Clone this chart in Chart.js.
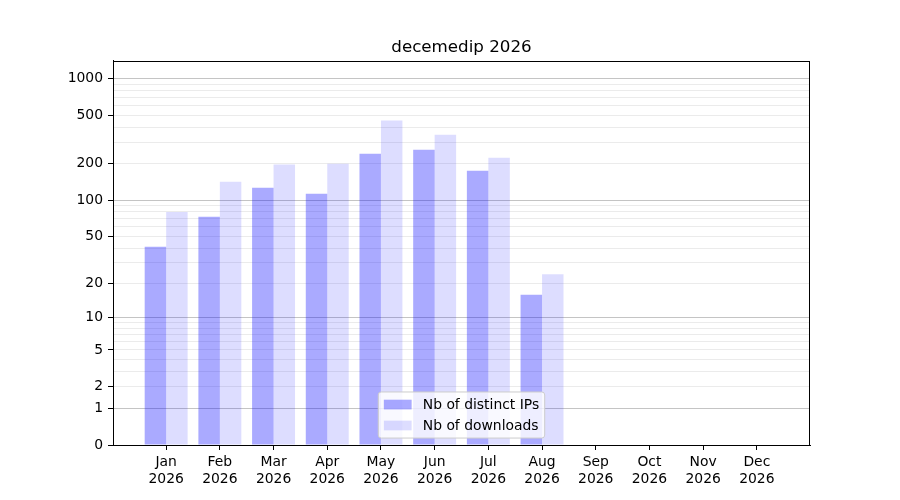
<!DOCTYPE html>
<html>
<head>
<meta charset="utf-8">
<title>decemedip 2026</title>
<script src="https://cdn.jsdelivr.net/npm/chart.js@4.4.1/dist/chart.umd.min.js"></script>
<style>
  html, body { margin: 0; padding: 0; background: #fff; }
  #wrap { width: 900px; height: 500px; }
</style>
</head>
<body>
<div id="wrap"><canvas id="bar-chart" width="900" height="500"></canvas></div>
<script>
// data
const months = ["Jan", "Feb", "Mar", "Apr", "May", "Jun", "Jul", "Aug", "Sep", "Oct", "Nov", "Dec"];
const year = "2026";
const distinctIPs = [41, 73, 127, 113, 242, 261, 175, 16, 0, 0, 0, 0];
const downloads = [80, 142, 197, 200, 452, 346, 224, 24, 0, 0, 0, 0];

// tick labels of the y axis and the unlabelled minor grid
const yTickLabels = [0, 1, 2, 5, 10, 20, 50, 100, 200, 500, 1000];
const yDecades = [1, 10, 100, 1000];
const yMinor = [3, 4, 6, 7, 8, 9, 30, 40, 60, 70, 80, 90, 300, 400, 600, 700, 800, 900];
const yMax = 1400;

const FONT = "'DejaVu Sans', sans-serif";
const EM = 13.9;

// scale log10(1 + x), like the one of the picture
const f = (v) => Math.log10(1 + v);

class Log1pScale extends Chart.Scale {
  static id = "log1p";
  static defaults = {};

  determineDataLimits() {
    const { min, max } = this.getMinMax(true);
    this.min = Number.isFinite(this.options.min) ? this.options.min : Math.max(0, min);
    this.max = Number.isFinite(this.options.max) ? this.options.max : max;
  }

  buildTicks() {
    return yTickLabels.concat(yMinor).sort((a, b) => a - b).map((v) => ({ value: v }));
  }

  getLabelForValue(value) {
    return String(value);
  }

  configure() {
    super.configure();
    this._startValue = f(this.min);
    this._valueRange = f(this.max) - f(this.min);
  }

  getPixelForValue(value) {
    if (value === undefined || value === null || isNaN(value)) return NaN;
    return this.getPixelForDecimal(this._valueRange ? (f(value) - this._startValue) / this._valueRange : 0);
  }

  getValueForPixel(pixel) {
    const d = this.getDecimalForPixel(pixel);
    return Math.pow(10, this._startValue + d * this._valueRange) - 1;
  }
}
Chart.register(Log1pScale);

// frame round the plot and legend inside it, lower center
const frameLegend = {
  id: "frameLegend",
  afterDraw(chart) {
    const { ctx, chartArea: a } = chart;
    ctx.save();
    ctx.strokeStyle = "#000";
    ctx.lineWidth = 1;
    ctx.strokeRect(Math.round(a.left) + 0.5, Math.round(a.top) + 0.5,
      Math.round(a.right - a.left) - 1, Math.round(a.bottom - a.top));

    ctx.font = EM + "px " + FONT;
    const items = chart.data.datasets;
    const textW = Math.max(...items.map((d) => ctx.measureText(d.label).width));
    const pad = 0.4 * EM, hl = 2 * EM, htp = 0.8 * EM, rowH = 14, sp = 0.5 * EM;
    const w = pad * 2 + hl + htp + textW;
    const h = pad * 2 + rowH * items.length + sp * (items.length - 1);
    const x = (a.left + a.right) / 2 - w / 2;
    const y = a.bottom - 0.5 * EM - h;

    ctx.beginPath();
    ctx.roundRect(x, y, w, h, 3);
    ctx.fillStyle = "rgba(255,255,255,0.8)";
    ctx.fill();
    ctx.strokeStyle = "#cccccc";
    ctx.stroke();

    items.forEach((d, i) => {
      const cy = y + pad + rowH / 2 + i * (rowH + sp);
      ctx.fillStyle = d.backgroundColor;
      ctx.fillRect(x + pad, cy - 0.35 * EM, hl, 0.7 * EM);
      ctx.fillStyle = "#000";
      ctx.textBaseline = "middle";
      ctx.textAlign = "left";
      ctx.fillText(d.label, x + pad + hl + htp, cy + 1);
    });
    ctx.restore();
  },
};

Chart.defaults.color = "#000";
Chart.defaults.font.family = FONT;
Chart.defaults.font.size = EM;

const ctx = document.getElementById("bar-chart").getContext("2d");
new Chart(ctx, {
  type: "bar",
  data: {
    datasets: [
      {
        label: "Nb of distinct IPs",
        data: distinctIPs.map((v, i) => ({ x: i, y: v })),
        backgroundColor: "rgba(0,0,255,0.333)",
      },
      {
        label: "Nb of downloads",
        data: downloads.map((v, i) => ({ x: i, y: v })),
        backgroundColor: "rgba(0,0,255,0.133)",
      },
    ],
  },
  options: {
    responsive: false,
    animation: false,
    categoryPercentage: 0.8,
    barPercentage: 1.0,
    elements: {
      bar: { borderWidth: 0, borderColor: "rgba(0,0,0,0)", inflateAmount: 0 },
    },
    layout: { padding: { left: 0, right: 90, top: 0, bottom: 0 } },
    plugins: {
      legend: { display: false },
      tooltip: { enabled: false },
      title: {
        display: true,
        text: "decemedip 2026",
        fullSize: false,
        color: "#000",
        font: { size: 16.7, weight: "normal", lineHeight: 1.2 },
        padding: { top: 38, bottom: 2.7 },
      },
    },
    scales: {
      x: {
        type: "linear",
        min: -0.99,
        max: 11.99,
        offset: false,
        afterBuildTicks: (scale) => {
          scale.ticks = months.map((m, i) => ({ value: i }));
        },
        afterFit: (scale) => {
          scale.height = 55;
        },
        grid: {
          offset: false,
          drawOnChartArea: false,
          drawTicks: true,
          tickLength: 5,
          tickColor: "#000",
        },
        border: { display: true, color: "#000" },
        ticks: {
          autoSkip: false,
          maxRotation: 0,
          padding: 4.5,
          color: "#000",
          callback: (value) => [months[value], year],
        },
      },
      y: {
        type: "log1p",
        min: 0,
        max: yMax,
        afterFit: (scale) => {
          scale.width = 113;
        },
        grid: {
          color: (c) => {
            const v = c.tick ? c.tick.value : 0;
            if (v === 0) return "rgba(0,0,0,0)";
            return yDecades.includes(v) ? "rgba(176,176,176,0.75)" : "rgba(176,176,176,0.25)";
          },
          tickColor: (c) => (c.tick && yTickLabels.includes(c.tick.value) ? "#000" : "rgba(0,0,0,0)"),
          tickLength: 5,
          lineWidth: 1,
        },
        border: { display: true, color: "#000" },
        ticks: {
          autoSkip: false,
          padding: 5,
          color: "#000",
          callback: (value) => (yTickLabels.includes(value) ? String(value) : ""),
        },
      },
    },
  },
  plugins: [frameLegend],
});
</script>
</body>
</html>
